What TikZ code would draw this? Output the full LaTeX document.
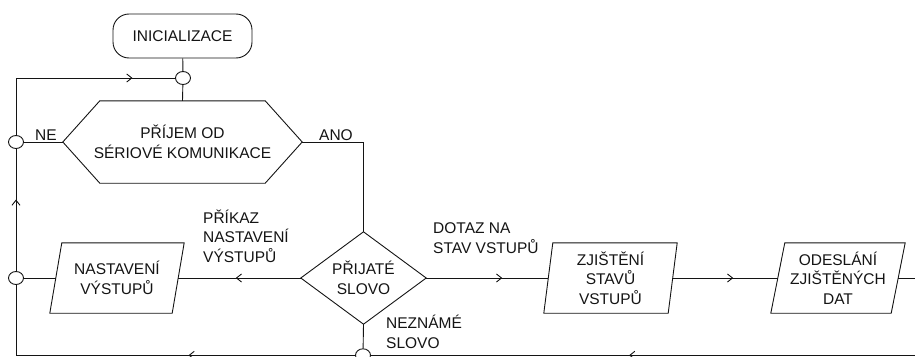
\documentclass[tikz,border=0pt]{standalone}
\usepackage{fontspec}
\setmainfont{Liberation Sans}
\usetikzlibrary{shapes.geometric,arrows.meta,decorations.markings}
\definecolor{ln}{gray}{0.08}
\tikzset{
  every node/.style={font=\fontsize{15.5}{19.5}\selectfont, text=ln},
  ln/.style={draw=ln, line width=0.9pt},
  boxarea/.style={inner sep=0pt, align=center},
  term/.style={ln, rectangle, rounded corners=16pt, minimum width=139pt, minimum height=44pt, align=center},
  joint/.style={ln, ellipse, fill=white, minimum width=15pt, minimum height=13pt, inner sep=0pt},
  lbl/.style={inner sep=0pt, align=left, anchor=base west},
  flowarrow/.style={postaction={decorate,decoration={markings,mark=at position #1 with {\arrow{Straight Barb[length=5pt,width=8pt]}}}}}
}
\newcommand{\paradraw}[2]{\draw[ln] ([xshift=#2]#1.north west) -- ([xshift=#2]#1.north east) -- ([xshift=-#2]#1.south east) -- ([xshift=-#2]#1.south west) -- cycle;}
\begin{document}
\begin{tikzpicture}[x=1pt,y=-1pt]
\useasboundingbox (0,0) rectangle (915,356);
\clip (0,0) rectangle (915,356);
% nodes
\node[term] (init) at (182.5,36) {INICIALIZACE};
\node[joint] (c1) at (183,78) {};
\node[boxarea, minimum width=239pt, minimum height=82pt] (hex) at (182.5,142) {PŘÍJEM OD\\SÉRIOVÉ KOMUNIKACE};
\draw[ln] (hex.west) -- ([xshift=37pt]hex.north west) -- ([xshift=-37pt]hex.north east) -- (hex.east) -- ([xshift=-37pt]hex.south east) -- ([xshift=37pt]hex.south west) -- cycle;
\node[joint] (c2) at (16,142) {};
\node[boxarea, minimum width=125pt, minimum height=92pt] (dia) at (363.5,278) {PŘIJATÉ\\SLOVO};
\draw[ln] (dia.west) -- (dia.north) -- (dia.east) -- (dia.south) -- cycle;
\node[boxarea, minimum width=122pt, minimum height=70pt] (nast) at (117,278) {NASTAVENÍ\\VÝSTUPŮ};
\paradraw{nast}{6pt}
\node[boxarea, minimum width=124pt, minimum height=70pt] (zjis) at (610.5,278) {ZJIŠTĚNÍ\\STAVŮ\\VSTUPŮ};
\paradraw{zjis}{4.5pt}
\node[boxarea, minimum width=120pt, minimum height=70pt] (odes) at (838,278) {ODESLÁNÍ\\ZJIŠTĚNÝCH\\DAT};
\paradraw{odes}{7pt}
\node[joint] (c3) at (16,278) {};
\node[joint] (c4) at (363,355.3) {};
\coordinate (tl) at (16,78);
\coordinate (bl) at (16,355.3);
\coordinate (r1) at (940,278);
\coordinate (r2) at (940,355.3);
\coordinate (ano) at (363.5,142);
% connectors
\draw[ln] (init) -- (c1);
\draw[ln] (c1) -- (hex.north);
\draw[ln] (hex.west) -- (c2);
\draw[ln] (hex.east) -- (ano) -- (dia.north);
\draw[ln, flowarrow=65pt] (dia.west) -- (nast.east);
\draw[ln] (nast.west) -- (c3);
\draw[ln, flowarrow=76pt] (dia.east) -- (zjis.west);
\draw[ln, flowarrow=60.5pt] (zjis.east) -- (odes.west);
\draw[ln, flowarrow=430pt] (odes.east) -- (r1) -- (r2) -- (c4.east);
\draw[ln] (dia.south) -- (c4);
\draw[ln, flowarrow=166.5pt] (c4.west) -- (bl) -- (c3.south);
\draw[ln, flowarrow=71.5pt] (c3.north) -- (c2.south);
\draw[ln, flowarrow=173.5pt] (c2.north) -- (tl) -- (c1.west);
% labels (base = baseline of last line)
\node[lbl] (ne) at (35,140) {NE};
\node[lbl] (anol) at (319,140) {ANO};
\node[lbl] (prikaz) at (203,262) {PŘÍKAZ\\NASTAVENÍ\\VÝSTUPŮ};
\node[lbl] (dotaz) at (433,253) {DOTAZ NA\\STAV VSTUPŮ};
\node[lbl] (nezn) at (386,348) {NEZNÁMÉ\\SLOVO};
\end{tikzpicture}
\end{document}
